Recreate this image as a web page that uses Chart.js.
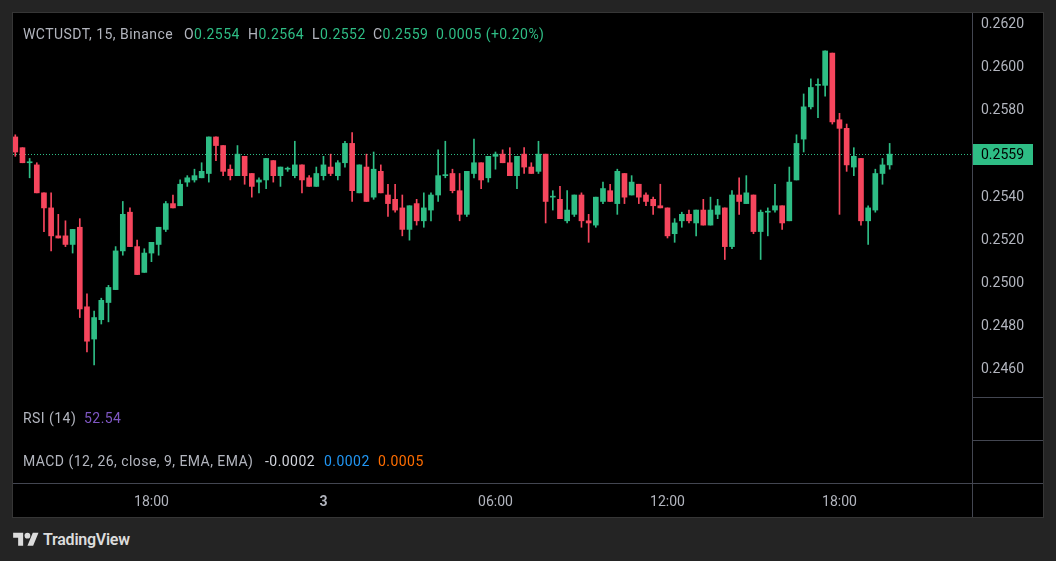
<!DOCTYPE html>
<html>
<head>
<meta charset="utf-8">
<title>WCTUSDT, 15, Binance</title>
<script src="https://cdn.jsdelivr.net/npm/chart.js@4.4.1/dist/chart.umd.min.js"></script>
<style>
  html, body {
    margin: 0;
    padding: 0;
    width: 1056px;
    height: 561px;
    overflow: hidden;
    background: #242424;
    font-family: Roboto, 'Noto Sans', sans-serif;
  }
  .panel {
    position: absolute;
    left: 12px;
    top: 12px;
    width: 1030px;
    height: 504px;
    background: #000;
    border: 1px solid #363636;
  }
  .chart-wrap {
    position: absolute;
    left: 0;
    top: 0;
    width: 1030px;
    height: 504px;
  }
  .txt {
    position: absolute;
    font-size: 14px;
    line-height: 16px;
    letter-spacing: 0.45px;
    color: #b2b5be;
    white-space: nowrap;
  }
  .up { color: #2ebd85; }
  .logo {
    position: absolute;
    left: 13px;
    top: 530px;
    height: 20px;
  }
  .logo svg { position: absolute; left: 0; top: 0; }
  .logo span {
    position: absolute;
    left: 30px;
    top: 1px;
    font-size: 16px;
    line-height: 18px;
    font-weight: 600;
    letter-spacing: -0.25px;
    color: #dcdcdc;
    white-space: nowrap;
  }
</style>
</head>
<body>
<div class="panel">
  <div class="chart-wrap"><canvas id="chart"></canvas></div>

  <div class="txt" style="left:10px; top:13px">WCTUSDT, 15, Binance</div>
  <div class="txt" style="left:171px; top:13px">O<span class="up">0.2554</span></div>
  <div class="txt" style="left:235px; top:13px">H<span class="up">0.2564</span></div>
  <div class="txt" style="left:299px; top:13px">L<span class="up">0.2552</span></div>
  <div class="txt" style="left:360px; top:13px">C<span class="up">0.2559</span></div>
  <div class="txt up" style="left:423px; top:13px">0.0005 (+0.20%)</div>

  <div class="txt" style="left:10px; top:397px">RSI (14)</div>
  <div class="txt" style="left:71px; top:397px; color:#7e57c2">52.54</div>

  <div class="txt" style="left:10px; top:440px">MACD (12, 26, close, 9, EMA, EMA)</div>
  <div class="txt" style="left:252px; top:440px; color:#d1d4dc">-0.0002</div>
  <div class="txt" style="left:311px; top:440px; color:#2196f3">0.0002</div>
  <div class="txt" style="left:365px; top:440px; color:#ff6d00">0.0005</div>
</div>

<div class="logo">
  <svg width="26" height="20" viewBox="0 0 36 28" fill="#dcdcdc">
    <path d="M14 22H7V11H0V4h14v18zM28 22h-8l7.5-18h8L28 22z"/>
    <circle cx="20" cy="8" r="4"/>
  </svg>
  <span>TradingView</span>
</div>

<script>
// 15 minute candles, 13:15 (day 2) to 19:45 (day 3)
const open = [0.2567,0.2562,0.2555,0.2554,0.2541,0.2534,0.2521,0.2521,0.2517,0.2525,
  0.2488,0.2473,0.2482,0.2490,0.2496,0.2514,0.2532,0.2516,0.2504,0.2513,
  0.2517,0.2524,0.2536,0.2535,0.2546,0.2547,0.2548,0.2550,0.2567,0.2563,
  0.2552,0.2549,0.2558,0.2550,0.2546,0.2547,0.2556,0.2549,0.2552,0.2549,
  0.2554,0.2548,0.2544,0.2549,0.2553,0.2549,0.2555,0.2564,0.2541,0.2553,
  0.2539,0.2551,0.2540,0.2538,0.2534,0.2524,0.2536,0.2528,0.2533,0.2540,
  0.2549,0.2550,0.2542,0.2531,0.2550,0.2555,0.2548,0.2558,0.2559,0.2555,
  0.2549,0.2559,0.2553,0.2551,0.2559,0.2539,0.2538,0.2528,0.2531,0.2540,
  0.2528,0.2526,0.2537,0.2542,0.2536,0.2550,0.2540,0.2545,0.2540,0.2538,
  0.2535,0.2534,0.2522,0.2528,0.2531,0.2527,0.2533,0.2526,0.2531,0.2534,
  0.2516,0.2540,0.2536,0.2540,0.2523,0.2532,0.2533,0.2535,0.2528,0.2547,
  0.2566,0.2581,0.2591,0.2591,0.2606,0.2575,0.2571,0.2553,0.2557,0.2528,
  0.2533,0.2550,0.2554];

const high = [0.2568,0.2562,0.2557,0.2555,0.2541,0.2541,0.2531,0.2528,0.2524,0.2529,
  0.2494,0.2486,0.2492,0.2498,0.2516,0.2537,0.2534,0.2519,0.2515,0.2518,
  0.2525,0.2537,0.2540,0.2547,0.2549,0.2552,0.2555,0.2567,0.2567,0.2563,
  0.2554,0.2563,0.2558,0.2550,0.2548,0.2557,0.2556,0.2553,0.2553,0.2565,
  0.2554,0.2549,0.2553,0.2558,0.2559,0.2556,0.2565,0.2569,0.2554,0.2559,
  0.2560,0.2554,0.2545,0.2545,0.2540,0.2535,0.2538,0.2541,0.2541,0.2561,
  0.2565,0.2552,0.2550,0.2551,0.2566,0.2555,0.2558,0.2560,0.2561,0.2562,
  0.2558,0.2562,0.2555,0.2565,0.2559,0.2542,0.2544,0.2542,0.2540,0.2541,
  0.2531,0.2539,0.2546,0.2545,0.2552,0.2550,0.2549,0.2545,0.2541,0.2539,
  0.2545,0.2534,0.2529,0.2532,0.2533,0.2533,0.2538,0.2539,0.2538,0.2534,
  0.2542,0.2548,0.2549,0.2540,0.2533,0.2534,0.2545,0.2535,0.2553,0.2568,
  0.2587,0.2594,0.2594,0.2607,0.2606,0.2578,0.2573,0.2562,0.2557,0.2535,
  0.2552,0.2557,0.2564];

const low = [0.2558,0.2555,0.2548,0.2541,0.2523,0.2514,0.2520,0.2516,0.2513,0.2483,
  0.2467,0.2461,0.2480,0.2481,0.2496,0.2512,0.2516,0.2503,0.2504,0.2509,
  0.2512,0.2523,0.2534,0.2535,0.2544,0.2546,0.2548,0.2546,0.2556,0.2549,
  0.2547,0.2549,0.2545,0.2539,0.2541,0.2543,0.2546,0.2544,0.2551,0.2548,
  0.2541,0.2544,0.2544,0.2547,0.2549,0.2547,0.2553,0.2537,0.2541,0.2537,
  0.2538,0.2541,0.2530,0.2532,0.2521,0.2519,0.2526,0.2525,0.2528,0.2537,
  0.2548,0.2541,0.2528,0.2530,0.2548,0.2543,0.2546,0.2552,0.2555,0.2549,
  0.2543,0.2550,0.2550,0.2550,0.2527,0.2533,0.2529,0.2527,0.2530,0.2525,
  0.2518,0.2525,0.2536,0.2537,0.2531,0.2536,0.2540,0.2536,0.2535,0.2531,
  0.2534,0.2520,0.2518,0.2525,0.2527,0.2521,0.2526,0.2526,0.2529,0.2510,
  0.2515,0.2531,0.2536,0.2522,0.2510,0.2521,0.2532,0.2524,0.2528,0.2547,
  0.2560,0.2580,0.2576,0.2586,0.2573,0.2531,0.2551,0.2549,0.2526,0.2517,
  0.2532,0.2545,0.2552];

const close = [0.2560,0.2555,0.2555,0.2541,0.2534,0.2521,0.2520,0.2517,0.2524,0.2487,
  0.2472,0.2483,0.2491,0.2497,0.2514,0.2531,0.2516,0.2503,0.2513,0.2518,
  0.2525,0.2536,0.2534,0.2545,0.2548,0.2549,0.2551,0.2567,0.2563,0.2551,
  0.2549,0.2559,0.2549,0.2544,0.2547,0.2557,0.2549,0.2553,0.2552,0.2554,
  0.2547,0.2544,0.2550,0.2554,0.2550,0.2555,0.2564,0.2542,0.2554,0.2537,
  0.2552,0.2541,0.2536,0.2533,0.2524,0.2535,0.2528,0.2534,0.2540,0.2549,
  0.2549,0.2542,0.2531,0.2551,0.2555,0.2547,0.2558,0.2559,0.2555,0.2549,
  0.2558,0.2553,0.2550,0.2559,0.2537,0.2539,0.2529,0.2533,0.2540,0.2528,
  0.2527,0.2539,0.2543,0.2537,0.2551,0.2539,0.2546,0.2539,0.2537,0.2535,
  0.2534,0.2521,0.2527,0.2531,0.2528,0.2533,0.2526,0.2533,0.2535,0.2516,
  0.2540,0.2537,0.2541,0.2523,0.2532,0.2532,0.2535,0.2527,0.2546,0.2564,
  0.2581,0.2590,0.2591,0.2607,0.2574,0.2571,0.2554,0.2558,0.2528,0.2534,
  0.2550,0.2554,0.2559];

// time axis: candle index of each label
const timeTickIdx = [19, 43, 67, 91, 115];
const timeTickLabels = ['18:00', '3', '06:00', '12:00', '18:00'];

// price axis labels (0.2560 is hidden behind the last-price tag)
const priceTicks = [0.2460, 0.2480, 0.2500, 0.2520, 0.2540, 0.2580, 0.2600, 0.2620];

const UP = '#2ebd85';
const DOWN = '#f6465d';
const LINE = '#434651';
const AXIS_TEXT = '#b2b5be';
const FONT = 'Roboto, "Noto Sans", sans-serif';

// visible range of the panes
const X_MIN = -0.32, X_MAX = 133.49;
const Y_MIN = 0.240605, Y_MAX = 0.262465;

const idx = open.map((_, i) => i);
const colors = idx.map(i => close[i] >= open[i] ? UP : DOWN);
const last = close.length - 1;
const lastClose = close[last];
const lastColor = colors[last];

const tvDecor = {
  id: 'tvDecor',
  beforeDatasetsDraw(chart) {
    const { ctx, chartArea: a, scales: { y } } = chart;
    const py = Math.round(y.getPixelForValue(lastClose)) + 0.5;
    ctx.save();
    ctx.strokeStyle = lastColor;
    ctx.lineWidth = 1;
    ctx.setLineDash([1, 2]);
    ctx.beginPath();
    ctx.moveTo(a.left, py);
    ctx.lineTo(a.right, py);
    ctx.stroke();
    ctx.restore();
  },
  afterDraw(chart) {
    const { ctx, chartArea: a, scales: { y }, width, height } = chart;
    ctx.save();
    ctx.strokeStyle = LINE;
    ctx.lineWidth = 1;
    ctx.beginPath();
    ctx.moveTo(a.right + 0.5, a.bottom);
    ctx.lineTo(a.right + 0.5, height);
    ctx.moveTo(a.right, a.bottom + 0.5);
    ctx.lineTo(width, a.bottom + 0.5);
    // RSI / MACD pane borders on the price scale
    [86, 43].forEach(off => {
      ctx.moveTo(a.right, a.bottom - off + 0.5);
      ctx.lineTo(width, a.bottom - off + 0.5);
    });
    ctx.stroke();

    const py = Math.round(y.getPixelForValue(lastClose));
    ctx.fillStyle = lastColor;
    ctx.fillRect(a.right + 1, py - 10, 60, 21);
    ctx.fillStyle = '#000';
    ctx.font = '14px ' + FONT;
    ctx.textBaseline = 'middle';
    ctx.fillText(lastClose.toFixed(4), a.right + 9, py + 1.5);
    ctx.restore();
  }
};

new Chart(document.getElementById('chart'), {
  type: 'bar',
  data: {
    datasets: [
      {
        label: 'wick',
        data: idx.map(i => ({ x: i, y: [low[i], high[i]] })),
        backgroundColor: colors,
        barThickness: 1,
        grouped: false,
        order: 2
      },
      {
        label: 'body',
        data: idx.map(i => ({ x: i, y: [open[i], close[i]] })),
        backgroundColor: colors,
        barThickness: 5,
        minBarLength: 1,
        grouped: false,
        order: 1
      }
    ]
  },
  options: {
    animation: false,
    responsive: true,
    maintainAspectRatio: false,
    layout: { padding: 0 },
    plugins: { legend: { display: false }, tooltip: { enabled: false } },
    scales: {
      x: {
        type: 'linear',
        min: X_MIN,
        max: X_MAX,
        offset: false,
        grid: { display: false, drawTicks: false },
        border: { display: true, color: LINE },
        afterBuildTicks: s => { s.ticks = timeTickIdx.map(v => ({ value: v })); },
        afterFit: s => { s.height = 34; s.paddingLeft = 0; s.paddingRight = 0; },
        ticks: {
          autoSkip: false,
          maxRotation: 0,
          padding: 11,
          color: AXIS_TEXT,
          font: c => ({
            family: FONT,
            size: 14,
            weight: timeTickLabels[c.index] && timeTickLabels[c.index].includes(':') ? 'normal' : 'bold'
          }),
          callback: (v, i) => timeTickLabels[i]
        }
      },
      y: {
        position: 'right',
        min: Y_MIN,
        max: Y_MAX,
        grid: { display: false, drawTicks: false },
        border: { display: true, color: LINE },
        afterBuildTicks: s => { s.ticks = priceTicks.map(v => ({ value: v })); },
        afterFit: s => { s.width = 71; s.paddingTop = 0; s.paddingBottom = 0; },
        ticks: {
          padding: 9,
          labelOffset: 2,
          color: AXIS_TEXT,
          font: { family: FONT, size: 14 },
          callback: v => v.toFixed(4)
        }
      }
    }
  },
  plugins: [tvDecor]
});
</script>
</body>
</html>
